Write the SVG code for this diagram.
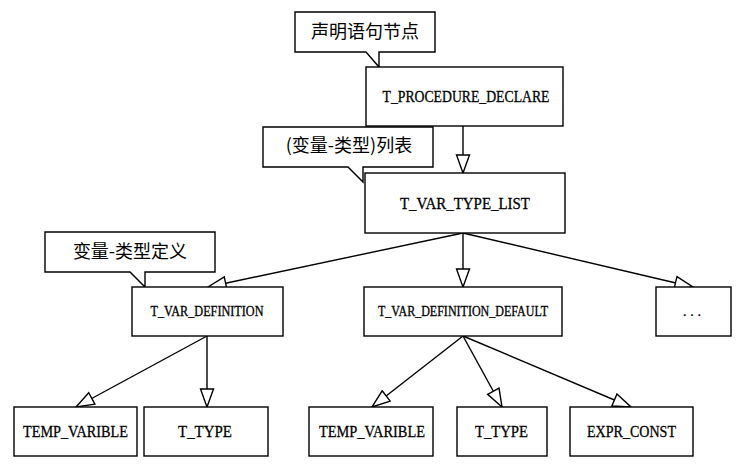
<svg xmlns="http://www.w3.org/2000/svg" width="746" height="476" viewBox="0 0 746 476">
<style>
.box{fill:#fff;stroke:#000;stroke-width:1.4}
.call{fill:#fff;stroke:#000;stroke-width:1.4;stroke-linejoin:miter}
.t{font-family:"Liberation Serif",serif;font-size:17.5px;fill:#000;text-anchor:middle;stroke:#000;stroke-width:0.3}
.s{font-family:"Liberation Serif",serif;font-size:14px;fill:#000;text-anchor:middle;stroke:#000;stroke-width:0.3}
.c{font-family:"Noto Sans CJK SC",sans-serif;font-size:18px;fill:#000;text-anchor:middle}
.e{fill:none;stroke:#000;stroke-width:1.4;marker-end:url(#ah)}
</style>
<defs>
<marker id="ah" markerUnits="userSpaceOnUse" markerWidth="20" markerHeight="16" refX="19" refY="7.5" orient="auto" viewBox="0 0 20 15">
<path d="M1,1 L19,7.5 L1,14 Z" fill="#fff" stroke="#000" stroke-width="1.4"/>
</marker>
</defs>
<rect width="746" height="476" fill="#fff"/>
<g id="connectors">
<path class="e" d="M463,126 L463,173"/>
<path class="e" d="M463,233 L208,287"/>
<path class="e" d="M463,233 L463,287"/>
<path class="e" d="M463,233 L693,287"/>
<path class="e" d="M207,336 L76,407"/>
<path class="e" d="M207,336 L207,407"/>
<path class="e" d="M463,336 L372,407"/>
<path class="e" d="M463,336 L502,407"/>
<path class="e" d="M463,336 L631,407"/>
</g>
<g id="callout1">
<path class="call" d="M295,12 H435 V52 H379 V67 L366,52 H295 Z"/>
<text class="c" x="365" y="38">声明语句节点</text>
</g>
<g id="callout2">
<path class="call" d="M263,127 H433 V167 H363 V182 L348,167 H263 Z"/>
<text class="c" x="349" y="152">(变量-类型)列表</text>
</g>
<g id="callout3">
<path class="call" d="M45,232 H215 V272 H145 V287 L130,272 H45 Z"/>
<text class="c" x="130" y="258">变量-类型定义</text>
</g>
<g id="n_proc">
<rect class="box" x="366" y="67" width="197" height="59"/>
<text class="t" x="466" y="102" textLength="167" lengthAdjust="spacingAndGlyphs">T_PROCEDURE_DECLARE</text>
</g>
<g id="n_list">
<rect class="box" x="365" y="173" width="200" height="60"/>
<text class="t" x="465" y="209" textLength="130" lengthAdjust="spacingAndGlyphs">T_VAR_TYPE_LIST</text>
</g>
<g id="n_def">
<rect class="box" x="132" y="287" width="151" height="49"/>
<text class="s" x="207" y="316" textLength="113" lengthAdjust="spacingAndGlyphs">T_VAR_DEFINITION</text>
</g>
<g id="n_defdef">
<rect class="box" x="364" y="287" width="198" height="49"/>
<text class="s" x="463" y="316" textLength="170" lengthAdjust="spacingAndGlyphs">T_VAR_DEFINITION_DEFAULT</text>
</g>
<g id="n_more">
<rect class="box" x="656" y="287" width="75" height="49"/>
<text class="s" x="692" y="316" textLength="18" lengthAdjust="spacing">...</text>
</g>
<g id="n_tv1">
<rect class="box" x="14" y="407" width="123" height="49"/>
<text class="t" x="75.5" y="437" textLength="105" lengthAdjust="spacingAndGlyphs">TEMP_VARIBLE</text>
</g>
<g id="n_tt1">
<rect class="box" x="144" y="407" width="124" height="49"/>
<text class="t" x="205" y="437" textLength="54" lengthAdjust="spacingAndGlyphs">T_TYPE</text>
</g>
<g id="n_tv2">
<rect class="box" x="309" y="407" width="124" height="49"/>
<text class="t" x="372" y="437" textLength="106" lengthAdjust="spacingAndGlyphs">TEMP_VARIBLE</text>
</g>
<g id="n_tt2">
<rect class="box" x="457" y="407" width="90" height="49"/>
<text class="t" x="501.5" y="437" textLength="53" lengthAdjust="spacingAndGlyphs">T_TYPE</text>
</g>
<g id="n_expr">
<rect class="box" x="570" y="407" width="123" height="49"/>
<text class="t" x="631.5" y="437" textLength="89" lengthAdjust="spacingAndGlyphs">EXPR_CONST</text>
</g>
</svg>
